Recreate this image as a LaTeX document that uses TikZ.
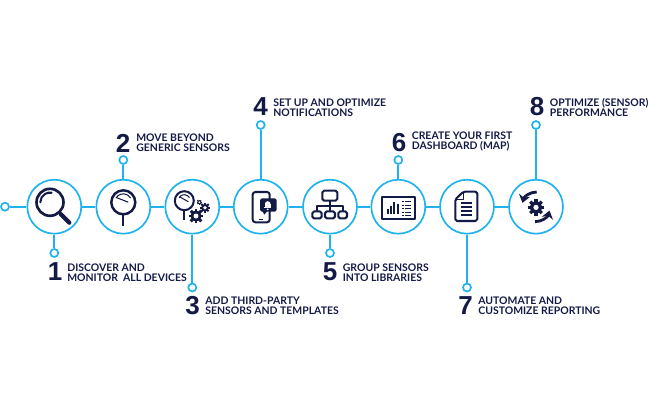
\documentclass[tikz,border=0pt]{standalone}
\usepackage{fontspec}
\setmainfont{Lato}
\newfontfamily\numfont{Liberation Sans}
\usepackage{xcolor}
\usetikzlibrary{positioning,calc,arrows.meta}
\definecolor{navy}{HTML}{141A46}
\definecolor{skyline}{HTML}{1FB2EC}

\tikzset{
    stepcircle/.style={circle, draw=skyline, line width=0.95pt, fill=white, minimum size=1.08cm, inner sep=0pt},
    pincircle/.style={circle, draw=skyline, line width=0.95pt, fill=white, minimum size=0.16cm, inner sep=0pt},
    link/.style={draw=skyline, line width=0.95pt},
    bignum/.style={text=navy, font=\fontsize{14.8}{15}\numfont\bfseries, inner sep=0pt},
    steptext/.style={text=navy, anchor=west, align=left, inner sep=0pt, font=\fontsize{5.95}{5.7}\selectfont\bfseries},
    icon/.style={draw=navy, line width=1.15pt, line join=round},
    iconthin/.style={draw=navy, line width=0.6pt},
}

% gear: position, radius, hole
\newcommand{\geargly}[3]{
    \fill[navy] #1 circle (#2);
    \foreach \a in {0,45,...,315}{
        \draw[navy, line width=#2*0.3] #1 ++(\a:#2*0.8) -- ++(\a:#2*0.55);
    }
    \fill[white] #1 circle (#3);
}

\begin{document}
\begin{tikzpicture}[x=0.02cm, y=-0.02cm]
    \useasboundingbox (0,0) rectangle (650,419);

    % Main line
    \node[pincircle] (start) at (5,206.7) {};
    \node[stepcircle] (step1) at (54.3,206.7) {};
    \node[stepcircle] (step2) at (123.3,206.7) {};
    \node[stepcircle] (step3) at (192.3,206.7) {};
    \node[stepcircle] (step4) at (260.7,206.7) {};
    \node[stepcircle] (step5) at (330,206.7) {};
    \node[stepcircle] (step6) at (398.3,206.7) {};
    \node[stepcircle] (step7) at (467,206.7) {};
    \node[stepcircle] (step8) at (536,206.7) {};
    \draw[link] (start) -- (step1);
    \draw[link] (step1) -- (step2);
    \draw[link] (step2) -- (step3);
    \draw[link] (step3) -- (step4);
    \draw[link] (step4) -- (step5);
    \draw[link] (step5) -- (step6);
    \draw[link] (step6) -- (step7);
    \draw[link] (step7) -- (step8);

    % Pins
    \node[pincircle] (pin1) at (54.3,253) {};
    \node[pincircle] (pin2) at (123.3,160) {};
    \node[pincircle] (pin3) at (192.3,287.5) {};
    \node[pincircle] (pin4) at (260.7,125) {};
    \node[pincircle] (pin5) at (330,253) {};
    \node[pincircle] (pin6) at (398.3,160) {};
    \node[pincircle] (pin7) at (467,287.5) {};
    \node[pincircle] (pin8) at (536,125) {};
    \draw[link] (step1) -- (pin1);
    \draw[link] (step2) -- (pin2);
    \draw[link] (step3) -- (pin3);
    \draw[link] (step4) -- (pin4);
    \draw[link] (step5) -- (pin5);
    \draw[link] (step6) -- (pin6);
    \draw[link] (step7) -- (pin7);
    \draw[link] (step8) -- (pin8);

    % Labels
    \node[bignum] (num1) at (55,272) {1};
    \node[steptext] (txt1) at (67,272.5) {DISCOVER AND\\MONITOR\ \ ALL DEVICES};
    \node[bignum] (num2) at (123,143) {2};
    \node[steptext] (txt2) at (136,143) {MOVE BEYOND\\GENERIC SENSORS};
    \node[bignum] (num3) at (192.5,306) {3};
    \node[steptext] (txt3) at (205,305.5) {ADD THIRD-PARTY\\SENSORS AND TEMPLATES};
    \node[bignum] (num4) at (260.5,107) {4};
    \node[steptext] (txt4) at (273,107.5) {SET UP AND OPTIMIZE\\NOTIFICATIONS};
    \node[bignum] (num5) at (330,272) {5};
    \node[steptext] (txt5) at (342.5,272.5) {GROUP SENSORS\\INTO LIBRARIES};
    \node[bignum] (num6) at (399,143) {6};
    \node[steptext] (txt6) at (411.5,141.5) {CREATE YOUR FIRST\\DASHBOARD (MAP)};
    \node[bignum] (num7) at (465.5,306) {7};
    \node[steptext] (txt7) at (478,305.5) {AUTOMATE AND\\CUSTOMIZE REPORTING};
    \node[bignum] (num8) at (537,107) {8};
    \node[steptext] (txt8) at (549.5,107.5) {OPTIMIZE (SENSOR)\\PERFORMANCE};

    % Magnifier
    \begin{scope}[shift={(step1)}]
        \draw[icon, line width=1.5pt] (-4.3,-4.4) circle (13.5);
        \draw[icon, line cap=round] (-14,-4.4) arc (180:280:9.7);
        \draw[icon] (4.9,5) -- (7,7);
        \draw[icon, line width=2.4pt, line cap=round] (6.5,7.5) -- (15,16);
    \end{scope}

    % Gauge
    \begin{scope}[shift={(step2)}]
        \draw[icon, line width=1.4pt] (0,-4.4) circle (12);
        \draw[iconthin] (-7.4,-8.6) arc (210:330:8.5);
        \draw[iconthin] (-6.5,-9) -- (5,-4.5);
        \draw[icon, line width=1.2pt] (0,8) -- (0,19.3);
    \end{scope}

    % Gauge and gears
    \begin{scope}[shift={(step3)}]
        \draw[icon] (-8,-6) circle (9.5);
        \draw[iconthin] (-13.2,-9) arc (210:330:6);
        \draw[iconthin] (-12,-9.5) -- (-4,-5);
        \draw[icon] (-8,4) -- (-8,13.3);
        \geargly{(3.7,9.3)}{5.5}{2.5}
        \geargly{(12.7,1)}{3.8}{1.9}
        \geargly{(7,-4.5)}{2}{1}
    \end{scope}

    % Phone with bell
    \begin{scope}[shift={(step4)}]
        \draw[icon, rounded corners=1.5] (-0.7,-14.7) -- (-8,-14.7) -- (-8,15.6) -- (9,15.6) -- (9,-14.7) -- (-0.7,-14.7);
        \draw[icon, line width=0.8pt] (-2,12.6) -- (2,12.6);
        \fill[navy, rounded corners=1] (-0.7,-8.4) rectangle (16,5);
        \fill[navy] (1.5,4) -- (3.6,8) -- (7,4) -- cycle;
        \fill[white] (7,-2.7) circle (2.8);
        \fill[white] (3.5,0.2) rectangle (10.5,1.6);
        \fill[white] (4.2,-2.7) rectangle (9.8,0.5);
        \fill[white] (7,2.6) circle (1);
    \end{scope}

    % Hierarchy
    \begin{scope}[shift={(step5)}]
        \draw[icon, rounded corners=1] (-7.7,-16) rectangle (7.3,-6);
        \draw[icon] (0,-6) -- (0,4.7);
        \draw[icon] (-13,4.7) -- (-13,-1) -- (13,-1) -- (13,4.7);
        \draw[icon, rounded corners=1] (-17.7,4.7) rectangle (-8.3,11.7);
        \draw[icon, rounded corners=1] (-5,4.7) rectangle (5,11.7);
        \draw[icon, rounded corners=1] (8.3,4.7) rectangle (17,11.7);
    \end{scope}

    % Dashboard
    \begin{scope}[shift={(step6)}]
        \draw[icon, line width=1.2pt] (-16,-10) rectangle (16.7,12.3);
        \fill[navy] (-11.5,2.5) rectangle (-9.5,7);
        \fill[navy] (-8.2,-1) rectangle (-6.2,7);
        \fill[navy] (-5,-5) rectangle (-3,7);
        \fill[navy] (-1.8,-3) rectangle (0.2,7);
        \foreach \yy in {-5,-1.5,2,5.5,8.5}{
            \fill[navy] (4,\yy-0.7) rectangle (5.7,\yy+0.7);
            \fill[navy] (7,\yy-0.6) rectangle (13,\yy+0.6);
        }
    \end{scope}

    % Document
    \begin{scope}[shift={(step7)}]
        \draw[icon, rounded corners=1] (-3.7,-15) -- (10.3,-15) -- (10.3,14.3) -- (-11.7,14.3) -- (-11.7,-7.3) -- cycle;
        \draw[icon, line width=0.7pt] (-3.7,-15) -- (-3.7,-7.3) -- (-11.7,-7.3);
        \foreach \yy in {-3.3,0.7,4.3,8.3}{
            \draw[icon] (-6.3,\yy) -- (5.3,\yy);
        }
    \end{scope}

    % Gear with arrows
    \begin{scope}[shift={(step8)}]
        \geargly{(0,0.7)}{6}{2.6}
        \draw[icon, line width=1.6pt, -{Stealth[length=4.5pt,width=6.5pt]}] (0.7,-14.7) arc (270:195:14.7);
        \draw[icon, line width=1.6pt, -{Stealth[length=4.5pt,width=6.5pt]}] (-1,15) arc (90:15:15);
    \end{scope}
\end{tikzpicture}
\end{document}
